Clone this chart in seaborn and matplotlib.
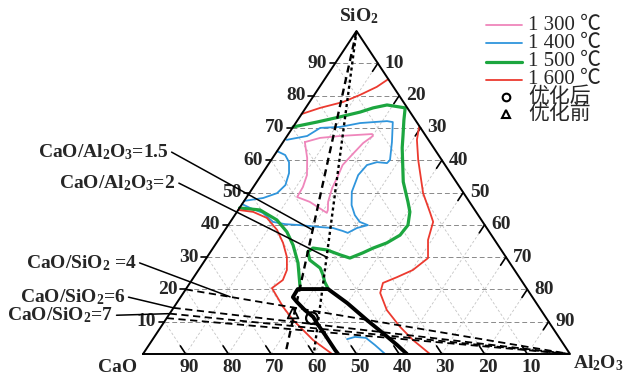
import numpy as np
import pandas as pd
import matplotlib
matplotlib.use("Agg")
import matplotlib.pyplot as plt
from matplotlib.lines import Line2D
import seaborn as sns

sns.set_style("white")
plt.rcParams['font.family'] = ['Liberation Serif', 'Noto Sans CJK SC', 'DejaVu Sans']
plt.rcParams['mathtext.fontset'] = 'custom'
plt.rcParams['mathtext.rm'] = 'Liberation Serif'
plt.rcParams['mathtext.default'] = 'regular'

red_top_al = [0, 3.4, 7.8, 10.7, 13.4, 14.9]
red_top_si = [74.3, 76.2, 78.0, 80.2, 82.7, 85.1]
red_right_al = [29.5, 31.0, 34.4, 40.7, 45.4, 47.5, 49.1, 51.9, 50.2, 47.6, 45.2, 46.1, 50.3, 56.0, 61.1, 67.2]
red_right_si = [70.3, 66.3, 60.1, 49.8, 43.7, 40.9, 35.3, 29.7, 26.0, 23.8, 22.0, 18.9, 13.6, 8.4, 4.3, 0]
red_left_al = [0, 3.8, 8.0, 12.2, 15.6, 18.7, 20.7, 21.3, 20.0, 25.5, 29.9, 33.8, 37.7, 44.3]
red_left_si = [44.6, 44.0, 42.1, 38.4, 34.4, 30.0, 26.0, 22.9, 20.4, 14.6, 10.5, 7.4, 4.3, 0]

green_al = [0, 4.8, 9.4, 13.4, 15.8, 18.6, 23.3, 24.9, 27.0, 28.8, 34.3, 38.5, 40.5, 42.1, 41.8,
            39.9, 37.5, 35.8, 33.6, 30.8, 27.0, 23.4, 22.8, 24.5, 28.2, 29.9, 31.4, 33.1]
green_si = [70.3, 71.8, 73.4, 74.9, 76.2, 77.1, 76.2, 72.4, 67.8, 63.8, 53.3, 47.1, 44.0, 39.9, 36.8,
            34.4, 32.8, 31.3, 29.7, 30.7, 32.2, 32.8, 31.6, 29.1, 26.6, 24.5, 22.3, 20.4]
green_left_al = [0, 5.1, 10.6, 14.8, 18.3, 22.2, 26.6]
green_left_si = [45.2, 44.6, 41.5, 37.8, 33.7, 28.2, 20.4]

blue_al = [0, 2.5, 6.2, 10.0, 13.2, 16.8, 21.8, 25.0, 27.7, 29.2, 30.6, 32.7, 30.3, 28.1, 25.8,
           23.8, 22.7, 23.2, 25.1, 27.6, 27.8, 25.5, 22.6, 21.1, 15.1, 11.0, 6.5, 4.7, 0.5]
blue_si = [46.4, 45.2, 43.7, 40.9, 40.2, 39.9, 39.3, 39.0, 38.1, 37.5, 39.0, 39.9, 40.9, 43.0, 46.1,
           50.2, 55.4, 58.5, 59.4, 59.1, 60.1, 65.6, 71.8, 72.1, 71.5, 70.3, 70.0, 67.5, 66.3]
blue_bulge_al = [0, 2.5, 4.5, 6.2, 7.2, 6.5, 4.0, 0]
blue_bulge_si = [62.8, 61.6, 59.4, 56.0, 52.3, 49.8, 48.3, 47.4]
blue_low_al = [45.5, 47.0, 49.7, 52.9, 56.7]
blue_low_si = [4.6, 5.3, 5.0, 2.8, 0]

pink_al = [5.1, 8.0, 12.4, 19.6, 20.1, 18.9, 18.1, 17.5, 18.2, 18.6, 19.8, 21.0, 21.2, 15.5, 11.8, 11.6, 10.7, 8.1, 5.1]
pink_si = [65.6, 66.9, 67.5, 68.1, 67.5, 65.3, 61.6, 58.5, 54.5, 51.4, 47.1, 44.6, 43.7, 47.1, 48.6, 51.7, 55.4, 60.7, 65.6]

# thick black boundary
bound_al = [45.7, 44.4, 39.7, 35.9, 34.1, 31.1, 28.0, 26.3, 26.2, 33.3, 39.9, 47.2, 52.9, 58.1, 61.8]
bound_si = [0, 1.2, 5.9, 9.6, 11.5, 13.6, 16.1, 17.6, 20.1, 20.1, 15.8, 10.5, 6.5, 2.8, 0]

# slag points
before_al, before_si = [28.8], [12.7]
after_al, after_si = [34.0], [11.1]

# ratio lines
cao_al_ratios = [2, 1.5]
cao_si_ratios = [4, 6, 7, 8]

ticks = [10, 20, 30, 40, 50, 60, 70, 80, 90]
temps = ['1 300 ℃', '1 400 ℃', '1 500 ℃', '1 600 ℃']
temp_colors = ['#ef86bb', '#2f95dc', '#1ca63f', '#ec3a2f']
point_names = ['优化后', '优化前']


def xy(al, si):
    al = np.asarray(al, float)
    si = np.asarray(si, float)
    return al + si / 2, si


W, H = 623, 379
fig = plt.figure(figsize=(W / 100, H / 100), dpi=100)
ax = fig.add_axes([143 / W, 25 / H, 427 / W, 323 / H])
ax.set_xlim(0, 100)
ax.set_ylim(0, 100)
ax.axis('off')

# grid
for k in ticks:
    x, y = xy([0, 100 - k], [k, k])
    ax.plot(x, y, color='#8a8a8a', lw=0.7, ls=(0, (5, 3)), zorder=1)
    x, y = xy([k, k], [0, 100 - k])
    ax.plot(x, y, color='#c4c4c4', lw=0.6, ls=(0, (3, 2.5)), zorder=1)
    x, y = xy([100 - k, 0], [0, 100 - k])
    ax.plot(x, y, color='#c4c4c4', lw=0.6, ls=(0, (3, 2.5)), zorder=1)

# frame
x, y = xy([0, 100, 0, 0], [0, 0, 100, 0])
ax.plot(x, y, color='black', lw=1.4, zorder=5, clip_on=False)

# ticks and tick labels
tfont = dict(fontsize=14, fontweight='bold')
for k in ticks:
    # left: SiO2
    ax.plot([k / 2 - 1.3, k / 2], [k, k], color='black', lw=1.2, clip_on=False)
    ax.text(k / 2 - 1.9, k, str(k), ha='right', va='center', **tfont)
    # right: Al2O3
    x, y = xy([100 - k, 100 - k], [k, k - 2.5])
    ax.plot(x, y, color='black', lw=1.2, clip_on=False)
    ax.text(100 - k / 2 + 1.6, k, str(100 - k), ha='left', va='center', **tfont)
    # bottom: CaO
    x, y = xy([k, k - 2.5], [0, 2.5])
    ax.plot(x, y, color='black', lw=1.2, clip_on=False)
    ax.text(k + 0.8, -4.2, str(100 - k), ha='center', va='center', **tfont)

ax.text(50.6, 104.5, 'SiO$_2$', ha='center', va='center', **tfont)
ax.text(-5.9, -4.2, 'CaO', ha='center', va='center', **tfont)
ax.text(106.6, -2.8, 'Al$_2$O$_3$', ha='center', va='center', **tfont)

# CaO/Al2O3 lines through SiO2 apex
for r, ls in zip(cao_al_ratios, [(0, (3, 2)), (0, (1.3, 1.3))]):
    x, y = xy([0, 100 / (1 + r)], [100, 0])
    ax.plot(x, y, color='black', lw=1.7, ls=ls, zorder=4)

# CaO/SiO2 lines through Al2O3 corner
for r in cao_si_ratios:
    x, y = xy([0, 100], [100 / (1 + r), 0])
    ax.plot(x, y, color='black', lw=1.3, ls=(0, (4, 2.5)), zorder=4)

# isotherms
curves = [
    (pink_al, pink_si, temp_colors[0], 1.3),
    (blue_al, blue_si, temp_colors[1], 1.3),
    (blue_bulge_al, blue_bulge_si, temp_colors[1], 1.3),
    (blue_low_al, blue_low_si, temp_colors[1], 1.3),
    (green_al, green_si, temp_colors[2], 2.3),
    (green_left_al, green_left_si, temp_colors[2], 2.3),
    (red_top_al, red_top_si, temp_colors[3], 1.3),
    (red_right_al, red_right_si, temp_colors[3], 1.3),
    (red_left_al, red_left_si, temp_colors[3], 1.3),
]
for al, si, c, lw in curves:
    x, y = xy(al, si)
    df = pd.DataFrame({'x': x, 'y': y})
    sns.lineplot(data=df, x='x', y='y', sort=False, estimator=None, color=c, lw=lw, ax=ax, zorder=3)

x, y = xy(bound_al, bound_si)
sns.lineplot(x=x, y=y, sort=False, estimator=None, color='black', lw=2.8, ax=ax, zorder=6)

x, y = xy(before_al, before_si)
sns.scatterplot(x=x, y=y, marker='^', s=60, facecolor='none', edgecolor='black', linewidth=1.3, ax=ax, zorder=7)
x, y = xy(after_al, after_si)
sns.scatterplot(x=x, y=y, marker='o', s=70, facecolor='none', edgecolor='black', linewidth=1.6, ax=ax, zorder=7)

# ratio labels with leaders
labels = [
    ('CaO/Al$_2$O$_3$=1.5', (5.9, 62.5), xy([(100 - 38.4) / 3], [38.4])),
    ('CaO/Al$_2$O$_3$=2', (7.6, 52.9), xy([(100 - 30.0) / 2.5], [30.0])),
    ('CaO/SiO$_2$ =4', (-1.6, 28.2), (np.array([20.4]), np.array([17.7]))),
    ('CaO/SiO$_2$=6', (-4.2, 17.6), xy([0], [100 / 7])),
    ('CaO/SiO$_2$=7', (-7.0, 12.0), xy([0], [100 / 8])),
]
for txt, (tx, ty), (ex, ey) in labels:
    ax.text(tx, ty, txt, ha='right', va='center', **tfont)
    ax.plot([tx + 0.8, ex[0]], [ty, ey[0]], color='black', lw=1.1, clip_on=False, zorder=4)

# legend, laid out by hand in figure pixels
row_y = [25, 43, 62, 80, 97, 114]
for i, lab in enumerate(temps + point_names):
    yf = 1 - row_y[i] / H
    if i < 4:
        fig.add_artist(Line2D([486 / W, 522 / W], [yf, yf], color=temp_colors[i],
                              lw=(2.3 if i == 2 else 1.3)))
    else:
        fig.add_artist(Line2D([506 / W], [yf], ls='none', marker=('o' if i == 4 else '^'),
                              ms=5.5, mfc='none', mec='black', mew=1.5))
    fig.text(528 / W, yf, lab, ha='left', va='center', fontsize=15)

fig.savefig('out.png', dpi=100)
